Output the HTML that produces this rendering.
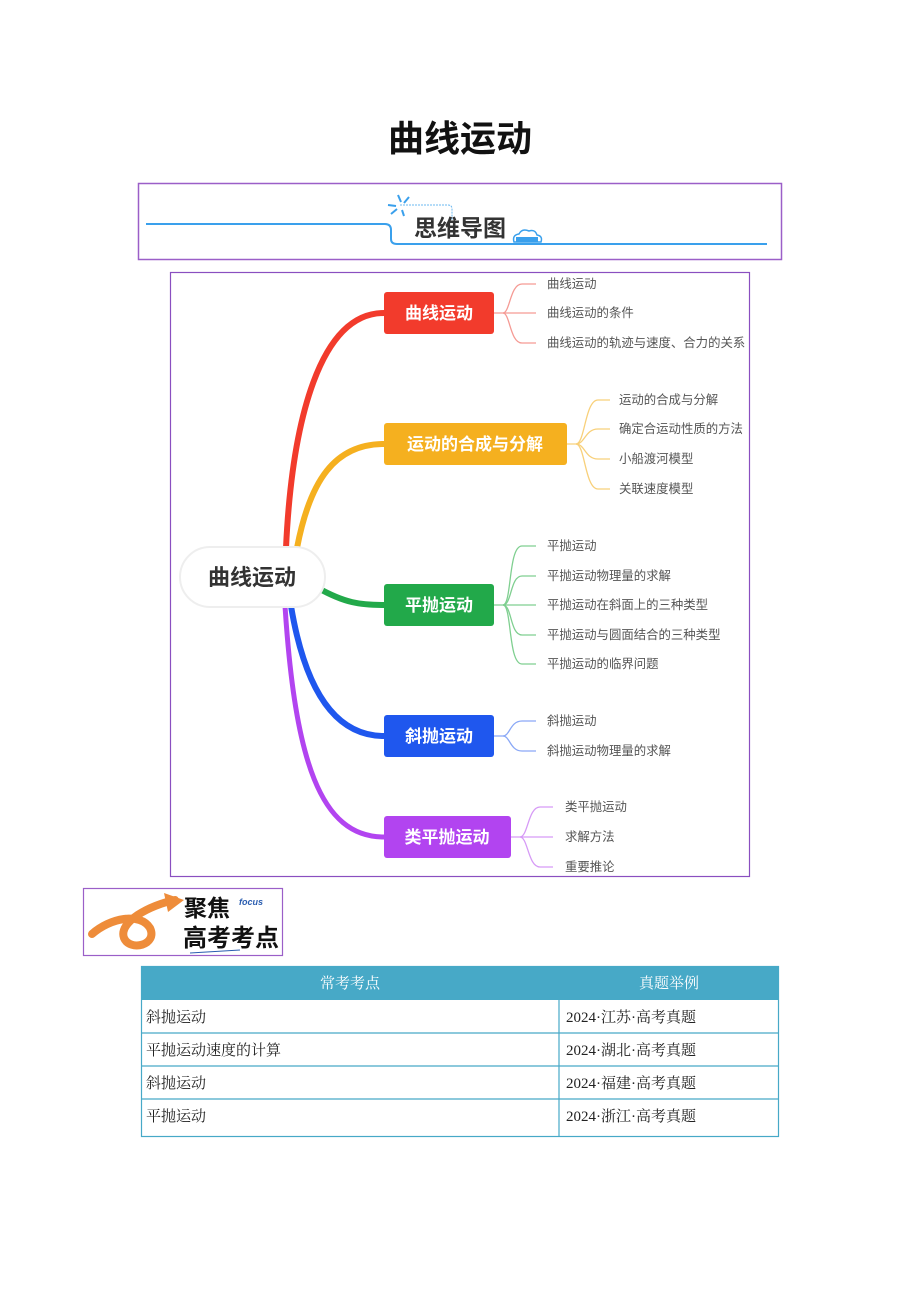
<!DOCTYPE html>
<html><head><meta charset="utf-8"><style>
html,body{margin:0;padding:0;background:#fff;}
svg{display:block;}
.s{font-family:"Liberation Sans","Noto Sans CJK SC",sans-serif;}
.r{font-family:"Liberation Serif","Noto Serif CJK SC",serif;}
</style></head><body>
<svg width="920" height="1302" viewBox="0 0 920 1302" xmlns="http://www.w3.org/2000/svg">
<text x="460" y="151" text-anchor="middle" class="s" font-size="36" font-weight="bold" fill="#111">曲线运动</text>

<!-- header band -->
<rect x="138.5" y="183.5" width="643" height="76" fill="none" stroke="#9b5fc8" stroke-width="1.5"/>
<path d="M146 224 H385 Q391 224 391 230 V239 Q391 244 397 244 H767" fill="none" stroke="#3aa0ec" stroke-width="2"/>
<path d="M400 205 H448 Q452 205 452 209 V222" fill="none" stroke="#6bb8f0" stroke-width="1" stroke-dasharray="2,1"/>
<g stroke="#3aa0ec" stroke-width="2"><line x1="398" y1="195" x2="401" y2="202"/><line x1="409" y1="197" x2="404" y2="203"/><line x1="388" y1="205" x2="396" y2="206"/><line x1="391" y1="214" x2="397" y2="209"/><line x1="402" y1="210" x2="404" y2="216"/></g>
<text x="414" y="236" class="s" font-size="23" font-weight="bold" fill="#333">思维导图</text>
<path d="M514 242 q-2 -7 5 -8 q3 -6 10 -3 q6 -2 8 4 q6 1 4 7 z" fill="#fff" stroke="#3aa0ec" stroke-width="1.5"/>
<rect x="516" y="237" width="22" height="5" fill="#3aa0ec"/>

<!-- mindmap frame -->
<rect x="170.5" y="272.5" width="579" height="604" fill="none" stroke="#8a4fc0" stroke-width="1.2"/>

<!-- main branches -->
<path d="M286 548 C292 420 320 313 384 313" fill="none" stroke="#f23b2c" stroke-width="6"/>
<path d="M297 548 C310 480 335 444 384 444" fill="none" stroke="#f5b01f" stroke-width="6"/>
<path d="M318 588 C345 603 360 605 384 605" fill="none" stroke="#22a94a" stroke-width="6"/>
<path d="M291 606 C305 690 335 736 384 736" fill="none" stroke="#1f57ee" stroke-width="6"/>
<path d="M285 606 C295 760 320 837 384 837" fill="none" stroke="#b244f0" stroke-width="5"/>

<!-- center -->
<rect x="180" y="547" width="145" height="60" rx="30" fill="#fff" stroke="#eee" stroke-width="2"/>
<text x="252" y="585" text-anchor="middle" class="s" font-size="22" font-weight="bold" fill="#333">曲线运动</text>

<!-- nodes -->
<g class="s" font-size="17" font-weight="bold" fill="#fff" text-anchor="middle">
<rect x="384" y="292" width="110" height="42" rx="3" fill="#f23b2c"/><text x="439" y="319">曲线运动</text>
<rect x="384" y="423" width="183" height="42" rx="3" fill="#f5b01f"/><text x="475" y="450">运动的合成与分解</text>
<rect x="384" y="584" width="110" height="42" rx="3" fill="#22a94a"/><text x="439" y="611">平抛运动</text>
<rect x="384" y="715" width="110" height="42" rx="3" fill="#1f57ee"/><text x="439" y="742">斜抛运动</text>
<rect x="384" y="816" width="127" height="42" rx="3" fill="#b244f0"/><text x="447" y="843">类平抛运动</text>
</g>

<!-- child connectors -->
<g fill="none" stroke-width="1.3">
<g stroke="#f59a94"><path d="M494 313 H503 C510 313 510 284 522 284 H536"/><path d="M503 313 H536"/><path d="M503 313 C510 313 510 343 522 343 H536"/></g>
<g stroke="#f8d07a"><path d="M567 444 H576 C585 444 585 400 598 400 H610"/><path d="M576 444 C585 444 585 429 598 429 H610"/><path d="M576 444 C585 444 585 459 598 459 H610"/><path d="M576 444 C585 444 585 489 598 489 H610"/></g>
<g stroke="#7fcf90"><path d="M494 605 H503 C512 605 508 546 522 546 H536"/><path d="M503 605 C512 605 510 576 522 576 H536"/><path d="M503 605 H536"/><path d="M503 605 C512 605 510 635 522 635 H536"/><path d="M503 605 C512 605 508 664 522 664 H536"/></g>
<g stroke="#8aa8f6"><path d="M494 736 H503 C510 736 510 721 522 721 H536"/><path d="M503 736 C510 736 510 751 522 751 H536"/></g>
<g stroke="#d69af6"><path d="M511 837 H520 C528 837 528 807 540 807 H553"/><path d="M520 837 H553"/><path d="M520 837 C528 837 528 867 540 867 H553"/></g>
</g>

<g class="s" font-size="12.4" fill="#555">
<text x="547" y="288">曲线运动</text><text x="547" y="317">曲线运动的条件</text><text x="547" y="347">曲线运动的轨迹与速度、合力的关系</text>
<text x="619" y="404">运动的合成与分解</text><text x="619" y="433">确定合运动性质的方法</text><text x="619" y="463">小船渡河模型</text><text x="619" y="493">关联速度模型</text>
<text x="547" y="550">平抛运动</text><text x="547" y="580">平抛运动物理量的求解</text><text x="547" y="609">平抛运动在斜面上的三种类型</text><text x="547" y="639">平抛运动与圆面结合的三种类型</text><text x="547" y="668">平抛运动的临界问题</text>
<text x="547" y="725">斜抛运动</text><text x="547" y="755">斜抛运动物理量的求解</text>
<text x="565" y="811">类平抛运动</text><text x="565" y="841">求解方法</text><text x="565" y="871">重要推论</text>
</g>

<!-- focus logo -->
<rect x="83.5" y="888.5" width="199" height="67" fill="#fff" stroke="#9b5fc8" stroke-width="1.2"/>
<path d="M92 934 C110 918 140 912 150 928 C158 945 130 952 124 938 C118 922 150 905 175 900" fill="none" stroke="#ee8c3a" stroke-width="8" stroke-linecap="round"/>
<path d="M164 893 L184 900 L168 912 Z" fill="#ee8c3a"/>
<text x="184" y="916" class="s" font-size="23" font-weight="bold" fill="#111">聚焦</text>
<text x="239" y="905" class="s" font-size="9" font-weight="bold" font-style="italic" fill="#2a5db0">focus</text>
<text x="183" y="946" class="s" font-size="24" font-weight="bold" fill="#111">高考考点</text>
<path d="M190 953 L240 950" stroke="#2a5db0" stroke-width="1"/>

<!-- table -->
<rect x="141" y="966" width="638" height="34" fill="#47a9c7"/>
<text x="350" y="988" text-anchor="middle" class="r" font-size="15" fill="#fff">常考考点</text>
<text x="669" y="988" text-anchor="middle" class="r" font-size="15" fill="#fff">真题举例</text>
<g stroke="#47a9c7" stroke-width="1.2" fill="none">
<rect x="141.5" y="966.5" width="637" height="170"/>
<line x1="141" y1="1033" x2="779" y2="1033"/><line x1="141" y1="1066" x2="779" y2="1066"/><line x1="141" y1="1099" x2="779" y2="1099"/>
<line x1="559" y1="1000" x2="559" y2="1137"/>
</g>
<g class="r" font-size="15" fill="#222">
<text x="146" y="1022">斜抛运动</text><text x="566" y="1022">2024·江苏·高考真题</text>
<text x="146" y="1055">平抛运动速度的计算</text><text x="566" y="1055">2024·湖北·高考真题</text>
<text x="146" y="1088">斜抛运动</text><text x="566" y="1088">2024·福建·高考真题</text>
<text x="146" y="1121">平抛运动</text><text x="566" y="1121">2024·浙江·高考真题</text>
</g>
</svg>
</body></html>
